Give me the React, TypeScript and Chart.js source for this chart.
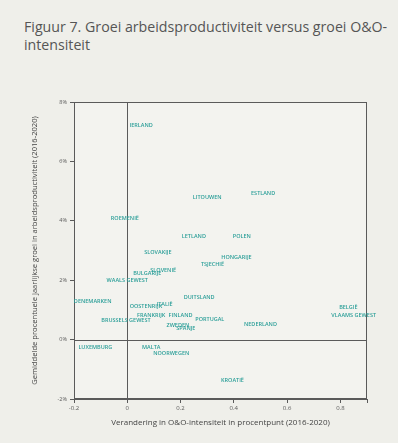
import React, { useEffect, useRef } from "react";
import { Chart, registerables } from "chart.js";

Chart.register(...registerables);

const countries = [
  "IERLAND", "LITOUWEN", "ESTLAND", "ROEMENIË", "LETLAND", "POLEN",
  "SLOVAKIJE", "HONGARIJE", "TSJECHIË", "SLOVENIË", "BULGARIJE", "WAALS GEWEST",
  "DENEMARKEN", "DUITSLAND", "ITALIË", "OOSTENRIJK", "FRANKRIJK", "FINLAND",
  "BRUSSELS GEWEST", "PORTUGAL", "NEDERLAND", "ZWEDEN", "SPANJE", "BELGIË",
  "VLAAMS GEWEST", "LUXEMBURG", "MALTA", "NOORWEGEN", "KROATIË",
];
const rdChange = [
  0.052, 0.30, 0.51, -0.009, 0.25, 0.43,
  0.115, 0.41, 0.32, 0.135, 0.075, 0.0,
  -0.13, 0.27, 0.14, 0.07, 0.09, 0.20,
  -0.005, 0.31, 0.50, 0.19, 0.22, 0.83,
  0.85, -0.12, 0.09, 0.165, 0.395,
];
const productivityGrowth = [
  7.21, 4.77, 4.91, 4.08, 3.47, 3.47,
  2.93, 2.77, 2.54, 2.33, 2.22, 2.0,
  1.27, 1.41, 1.2, 1.1, 0.83, 0.83,
  0.63, 0.67, 0.5, 0.47, 0.36, 1.08,
  0.83, -0.27, -0.27, -0.46, -1.37,
];
const titleLine1 = "Figuur 7. Groei arbeidsproductiviteit versus groei O&O-";
const titleLine2 = "intensiteit";
const xTitle = "Verandering in O&O-intensiteit in procentpunt (2016-2020)";
const yTitle = "Gemiddelde procentuele jaarlijkse groei in arbeidsproductiviteit (2016-2020)";

const FONT = "'Open Sans', 'Noto Sans', sans-serif";
const TEAL = "#2a9e98";
const AXIS = "#5a5a5a";
const BG = "#efefea";

const decorPlugin = {
  id: "decor",
  beforeDraw(chart: any) {
    const { ctx, chartArea: a } = chart;
    ctx.save();
    ctx.fillStyle = "#f3f3ef";
    ctx.fillRect(a.left, a.top, a.right - a.left, a.bottom - a.top);
    ctx.restore();
  },
  afterDatasetsDraw(chart: any) {
    const { ctx, chartArea: a, scales } = chart;
    ctx.save();
    ctx.strokeStyle = AXIS;
    ctx.lineWidth = 1;
    ctx.strokeRect(a.left + 0.5, a.top + 0.5, a.right - a.left - 1, a.bottom - a.top - 1);
    const x0 = Math.round(scales.x.getPixelForValue(0)) + 0.5;
    const y0 = Math.round(scales.y.getPixelForValue(0)) + 0.5;
    ctx.beginPath();
    ctx.moveTo(x0, a.top);
    ctx.lineTo(x0, a.bottom);
    ctx.moveTo(a.left, y0);
    ctx.lineTo(a.right, y0);
    ctx.stroke();
    const meta = chart.getDatasetMeta(0);
    ctx.font = `600 5.5px ${FONT}`;
    ctx.fillStyle = TEAL;
    ctx.textAlign = "center";
    ctx.textBaseline = "middle";
    meta.data.forEach((pt: any, i: number) => {
      ctx.fillText(countries[i], pt.x, pt.y);
    });
    ctx.restore();
  },
};

export default function App() {
  const ref = useRef<HTMLCanvasElement>(null);
  useEffect(() => {
    document.body.style.margin = "0";
    document.body.style.background = BG;
    const chart = new Chart(ref.current!, {
      type: "scatter",
      data: {
        datasets: [
          {
            data: rdChange.map((x, i) => ({ x, y: productivityGrowth[i] })),
            pointRadius: 0,
            pointHoverRadius: 0,
          },
        ],
      },
      options: {
        animation: false,
        responsive: false,
        layout: { padding: { top: 102, right: 31, left: 0, bottom: 0 } },
        plugins: { legend: { display: false }, tooltip: { enabled: false } },
        scales: {
          x: {
            type: "linear",
            min: -0.2,
            max: 0.9,
            afterFit: (s: any) => { s.height = 44; },
            ticks: {
              stepSize: 0.2,
              color: AXIS,
              font: { family: FONT, size: 6 },
              padding: 2,
              maxRotation: 0,
              callback: (v: any) => {
                const n = Number(v);
                if (Math.abs(n - 0.9) < 1e-6) return "";
                return String(Number(n.toFixed(1)));
              },
            },
            grid: { drawOnChartArea: false, drawTicks: true, tickLength: 4, color: AXIS },
            border: { display: true, color: AXIS },
            title: {
              display: true,
              text: xTitle,
              color: "#444",
              font: { family: FONT, size: 8 },
              padding: { top: 0, bottom: 15 },
            },
          },
          y: {
            type: "linear",
            min: -2,
            max: 8,
            afterFit: (s: any) => { s.width = 74; },
            ticks: {
              stepSize: 2,
              color: AXIS,
              font: { family: FONT, size: 5.5 },
              padding: 3,
              callback: (v: any) => `${Number(v)}%`,
            },
            grid: { drawOnChartArea: false, drawTicks: true, tickLength: 4, color: AXIS },
            border: { display: true, color: AXIS },
            title: {
              display: true,
              text: yTitle,
              color: "#444",
              font: { family: FONT, size: 7.6 },
              padding: { top: 30, bottom: 0 },
            },
          },
        },
      },
      plugins: [decorPlugin],
    });
    return () => chart.destroy();
  }, []);
  return (
    <div style={{ position: "relative", width: 398, height: 443, background: BG, overflow: "hidden" }}>
      <div
        style={{
          position: "absolute",
          left: 24,
          top: 18,
          whiteSpace: "nowrap",
          fontFamily: FONT,
          fontSize: 14.2,
          lineHeight: "18px",
          color: "#555",
        }}
      >
        {titleLine1}
        <br />
        {titleLine2}
      </div>
      <canvas ref={ref} width={398} height={443} style={{ position: "absolute", left: 0, top: 0 }} />
    </div>
  );
}
